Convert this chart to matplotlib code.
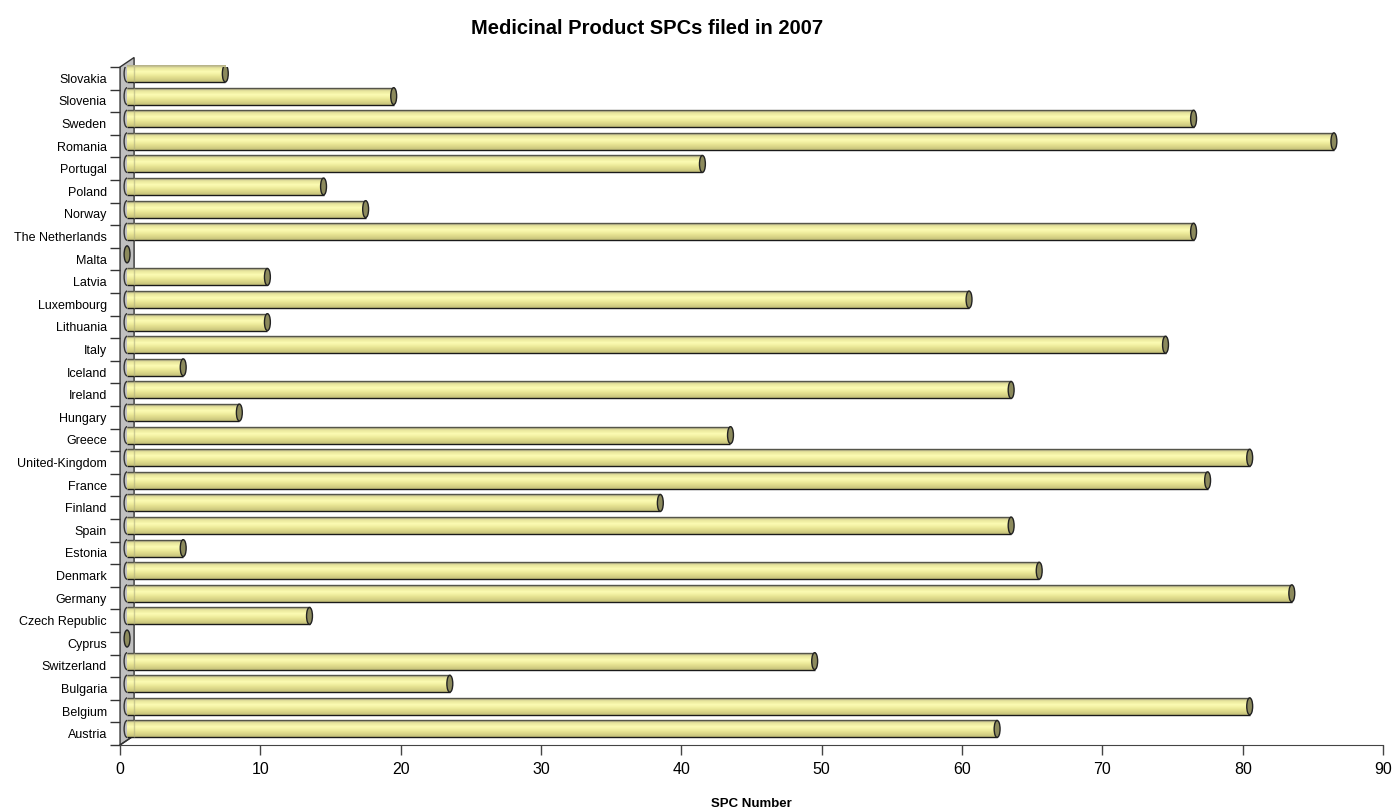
import matplotlib
matplotlib.use('Agg')
import matplotlib.pyplot as plt
from matplotlib.patches import Polygon, Ellipse, Arc
from matplotlib.colors import to_rgb
import numpy as np

plt.rcParams['font.family'] = ['Liberation Sans', 'DejaVu Sans']

# Countries listed bottom to top
countries = ['Austria', 'Belgium', 'Bulgaria', 'Switzerland', 'Cyprus',
             'Czech Republic', 'Germany', 'Denmark', 'Estonia', 'Spain',
             'Finland', 'France', 'United-Kingdom', 'Greece', 'Hungary',
             'Ireland', 'Iceland', 'Italy', 'Lithuania', 'Luxembourg',
             'Latvia', 'Malta', 'The Netherlands', 'Norway', 'Poland',
             'Portugal', 'Romania', 'Sweden', 'Slovenia', 'Slovakia']
spc_count = [62, 80, 23, 49, 0,
             13, 83, 65, 4, 63,
             38, 77, 80, 43, 8,
             63, 4, 74, 10, 60,
             10, 0, 76, 17, 14,
             41, 86, 76, 19, 7]
xticks = [0, 10, 20, 30, 40, 50, 60, 70, 80, 90]

# pseudo-3D depth offsets (x in data units, y in category units)
DX = 1.0
DY = 0.42
bar_h = 0.75
cap_w = 0.42

fig = plt.figure(figsize=(13.96, 8.11), dpi=100)
ax = fig.add_axes([0.0860, 0.0814, 0.9047, 0.8360])
n = len(countries)
ax.set_xlim(0, 90)
ax.set_ylim(0, n)

# grey side wall
wall = Polygon([(0, 0), (DX, DY), (DX, n + DY), (0, n)], closed=True,
               facecolor='#c0c0c0', edgecolor='#333333', lw=1.0,
               clip_on=False, zorder=1)
ax.add_patch(wall)

# vertical shading for the cylinders, top to bottom
stops = ['#b8b48a', '#e6e49c', '#f2f0a6', '#fbfab2', '#f6f4a8',
         '#ecea9a', '#e2de8e', '#d6d286', '#c8c47c']
grad = np.array([to_rgb(c) for c in stops])[:, None, :]

for i, (name, v) in enumerate(zip(countries, spc_count)):
    yc = i + 0.5 + DY / 2
    x0 = DX / 2
    x1 = v + DX / 2
    y0, y1 = yc - bar_h / 2, yc + bar_h / 2
    if v > 0:
        body = ax.barh(yc, v, left=x0, height=bar_h, color='none',
                       lw=0, zorder=3)[0]
        im = ax.imshow(grad, extent=[x0, x1, y0, y1], aspect='auto',
                       interpolation='bilinear', zorder=3)
        im.set_clip_path(body)
        ax.hlines(y1, x0, x1, color='#55554a', lw=1.0, zorder=4)
        ax.hlines(y0, x0, x1, color='#1a1a1a', lw=1.0, zorder=4)
        ax.add_patch(Arc((x0, yc), cap_w, bar_h, theta1=90, theta2=270,
                         color='#333333', lw=1.0, zorder=4))
        # faint back edge of the wall showing through
        ax.vlines(DX, y0, y1, color='#b0ae80', lw=1.0, alpha=0.6, zorder=4)
    ax.add_patch(Ellipse((x1, yc), cap_w, bar_h, facecolor='#8c8a5c',
                         edgecolor='#222222', lw=1.0, zorder=5))

# floor edge
ax.plot([0, DX], [0, DY], color='#333333', lw=1.0, clip_on=False, zorder=2)

for s in ['top', 'right']:
    ax.spines[s].set_visible(False)
ax.spines['left'].set_visible(False)
ax.spines['bottom'].set_color('#444444')

ax.set_xticks(xticks)
ax.tick_params(axis='x', length=7.2, width=1, color='#444444',
               labelsize=11.5, pad=5)

# category boundaries get tick marks, names sit between them
ax.set_yticks(np.arange(0, n + 1))
ax.set_yticklabels([])
ax.set_yticks(np.arange(n) + 0.5, minor=True)
ax.set_yticklabels(countries, minor=True, fontsize=9)
ax.tick_params(axis='y', which='major', length=7.2, width=1, color='#333333')
ax.tick_params(axis='y', which='minor', length=0, pad=9.5)

ax.set_xlabel('SPC Number', fontsize=9.5, fontweight='bold', labelpad=15)
fig.text(0.4636, 0.965, 'Medicinal Product SPCs filed in 2007',
         ha='center', va='center', fontsize=14.5, fontweight='bold')

fig.savefig('out.png', dpi=100)
